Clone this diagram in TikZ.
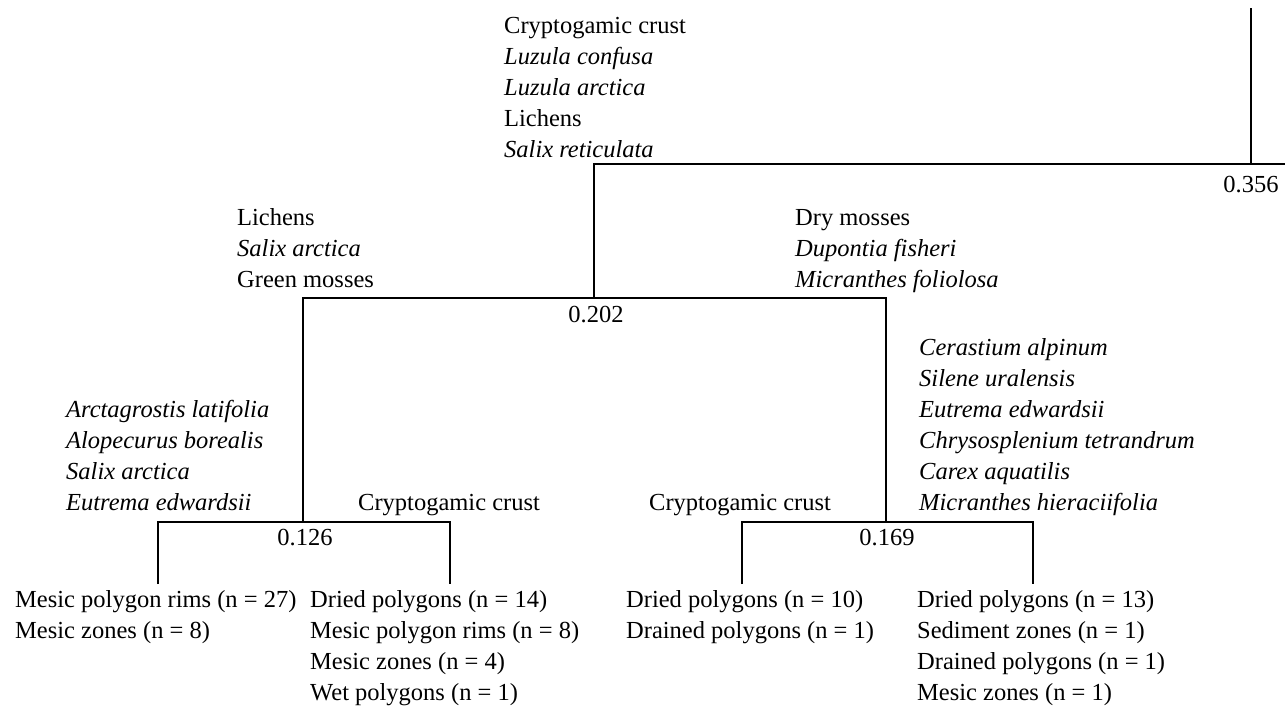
\documentclass[tikz,border=0pt]{standalone}
\usepackage{fontspec}
\setmainfont{Liberation Serif}
\begin{document}
\begin{tikzpicture}[x=0.5pt, y=-0.5pt, line width=1.2pt,
  every node/.style={font=\fontsize{12.25}{15.5}\selectfont, inner sep=0pt},
  taxa/.style={anchor=base west, align=left},
  dist/.style={anchor=center}]
\useasboundingbox (0,0) rectangle (1285,709);
% junctions and tips
\coordinate (top) at (1251,8);
\coordinate (edge) at (1285,164);
\coordinate (r356) at (1251,164);
\coordinate (r202) at (594,298);
\coordinate (r126) at (303,522);
\coordinate (r169) at (886,522);
\coordinate (tA) at (158,584);
\coordinate (tB) at (450,584);
\coordinate (tC) at (742,584);
\coordinate (tD) at (1033,584);
% tree
\draw (top)--(r356);
\draw (edge)--(r356)-|(r202);
\draw (r126)|-(r202)-|(r169);
\draw (tA)|-(r126)-|(tB);
\draw (tC)|-(r169)-|(tD);
% split values
\node[dist] (d356) at (1251,185) {0.356};
\node[dist] (d202) at (596,315) {0.202};
\node[dist] (d126) at (305,538) {0.126};
\node[dist] (d169) at (887,538) {0.169};
% indicator taxa (base = last line)
\node[taxa] (sp356) at (503,157) {Cryptogamic crust\\\textit{Luzula confusa}\\\textit{Luzula arctica}\\Lichens\\\textit{Salix reticulata}};
\node[taxa] (sp202l) at (236,287) {Lichens\\\textit{Salix arctica}\\Green mosses};
\node[taxa] (sp202r) at (794,287) {Dry mosses\\\textit{Dupontia fisheri}\\\textit{Micranthes foliolosa}};
\node[taxa] (sp126l) at (65,510) {\textit{Arctagrostis latifolia}\\\textit{Alopecurus borealis}\\\textit{Salix arctica}\\\textit{Eutrema edwardsii}};
\node[taxa] (sp126r) at (357,510) {Cryptogamic crust};
\node[taxa] (sp169l) at (648,510) {Cryptogamic crust};
\node[taxa] (sp169r) at (918,510) {\textit{Cerastium alpinum}\\\textit{Silene uralensis}\\\textit{Eutrema edwardsii}\\\textit{Chrysosplenium tetrandrum}\\\textit{Carex aquatilis}\\\textit{Micranthes hieraciifolia}};
% groups
\node[taxa] (leafA) at (14,638) {Mesic polygon rims (n = 27)\\Mesic zones (n = 8)};
\node[taxa] (leafB) at (309,700) {Dried polygons (n = 14)\\Mesic polygon rims (n = 8)\\Mesic zones (n = 4)\\Wet polygons (n = 1)};
\node[taxa] (leafC) at (625,638) {Dried polygons (n = 10)\\Drained polygons (n = 1)};
\node[taxa] (leafD) at (916,700) {Dried polygons (n = 13)\\Sediment zones (n = 1)\\Drained polygons (n = 1)\\Mesic zones (n = 1)};
\end{tikzpicture}
\end{document}
